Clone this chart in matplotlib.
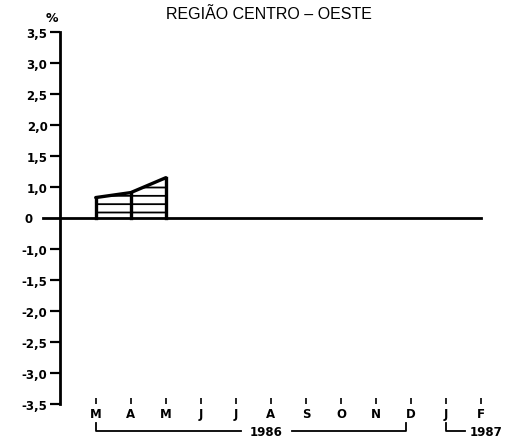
import matplotlib
matplotlib.use("Agg")
import matplotlib.pyplot as plt

months = ["M", "A", "M", "J", "J", "A", "S", "O", "N", "D", "J", "F"]
# hatched series (March-May 1986), in %
bar_months = [0, 1, 2]
bar_values = [0.66, 0.82, 1.15]
ytick_values = [3.5, 3.0, 2.5, 2.0, 1.5, 1.0, -1.0, -1.5, -2.0, -2.5, -3.0, -3.5]
ytick_labels = ["3,5", "3,0", "2,5", "2,0", "1,5", "1,0",
                "-1,0", "-1,5", "-2,0", "-2,5", "-3,0", "-3,5"]


def ypos(v):
    # the printed scale is evenly spaced by tick, not by value
    if v >= 1.0:
        return 1 + (v - 1.0) / 0.5
    if v >= -1.0:
        return v
    return -1 + (v + 1.0) / 0.5


plt.rcParams['font.family'] = ['DejaVu Sans']
plt.rcParams['hatch.linewidth'] = 1.3
fig = plt.figure(figsize=(5.06, 4.39), dpi=100)
ax = fig.add_axes([0.1186, 0.0774, 0.86, 0.8474])

ax.set_xlim(-1.02, 11.4)
ax.set_ylim(-6, 6)

ys = [ypos(v) for v in bar_values]
ax.fill_between(bar_months, 0, ys, facecolor="white", edgecolor="black",
                hatch="--", linewidth=0)
ax.plot(bar_months, ys, color="black", lw=2.4, solid_capstyle="round")
for m, y in zip(bar_months, ys):
    ax.plot([m, m], [0, y], color="black", lw=2.4)

# zero line
ax.plot([-1.5, 11.0], [0, 0], color="black", lw=2, clip_on=False)
ax.text(-1.92, 0, "0", ha="center", va="center", fontsize=8.5, fontweight="bold")

for s in ["top", "right", "bottom"]:
    ax.spines[s].set_visible(False)
ax.spines["left"].set_linewidth(2)

ax.set_yticks([ypos(v) for v in ytick_values])
ax.set_yticklabels(ytick_labels, fontsize=8.5, fontweight="bold")
ax.tick_params(axis="y", direction="out", length=7, width=1.6, pad=2)

ax.set_xticks(range(len(months)))
ax.set_xticklabels(months, fontsize=8.5, fontweight="bold")
ax.tick_params(axis="x", direction="in", length=4, width=1.2, pad=2)

# year brackets
yb, yt = -6.88, -6.62
ax.plot([0, 0, 4.15], [yt, yb, yb], color="black", lw=1.3, clip_on=False)
ax.plot([5.6, 8.85, 8.85], [yb, yb, yt], color="black", lw=1.3, clip_on=False)
ax.text(4.87, yb, "1986", ha="center", va="center", fontsize=8.5, fontweight="bold")
ax.plot([10.0, 10.0, 10.55], [yt, yb, yb], color="black", lw=1.3, clip_on=False)
ax.text(10.68, yb, "1987", ha="left", va="center", fontsize=8.5, fontweight="bold")

fig.text(0.532, 0.967, "REGIÃO CENTRO – OESTE", ha="center", va="center",
         fontsize=11.5, family=["Liberation Sans", "DejaVu Sans"])
fig.text(0.103, 0.958, "%", ha="center", va="center", fontsize=9, fontweight="bold")

fig.savefig("out.png", dpi=100)
